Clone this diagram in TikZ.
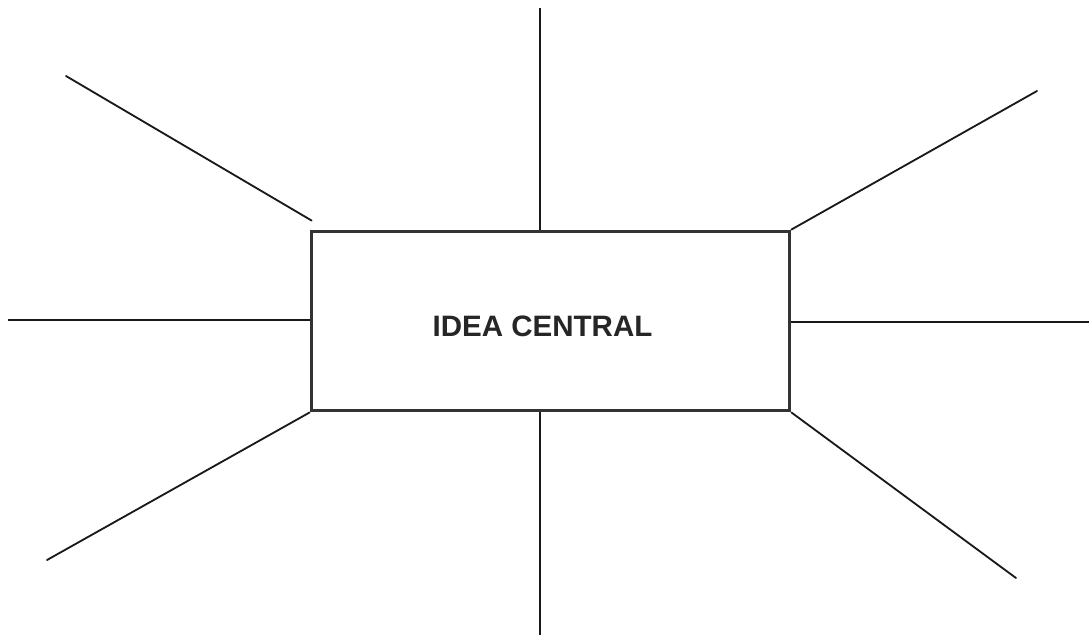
\documentclass[tikz,border=0pt]{standalone}
\usepackage{fontspec}
\setmainfont{Liberation Sans}
\usetikzlibrary{positioning, calc}

\begin{document}
\begin{tikzpicture}[x=0.025cm, y=-0.025cm,
        centro/.style={rectangle, draw=black!80, line width=2.6pt, minimum width=11.95cm, minimum height=4.48cm, inner sep=0pt, font=\fontsize{21}{25}\selectfont\bfseries, text=black!85},
        rama/.style={black!90, line width=1.3pt, line cap=round},
        eje/.style={black!90, line width=0.8pt}
    ]
        \useasboundingbox (0,0) rectangle (1089,640);
        \node[centro] (idea) at (550.5,321) {\hspace*{-0.4cm}\raisebox{-0.38cm}[0pt][0pt]{IDEA CENTRAL}};

        % extremos de las ramas
        \coordinate (n) at (540,8);
        \coordinate (s) at (540,635);
        \coordinate (o) at (8,320);
        \coordinate (e) at (1089,322);
        \coordinate (no) at (66,76);
        \coordinate (ne) at (1037,91);
        \coordinate (so) at (47,560);
        \coordinate (se) at (1016,578);

        \draw[eje] (idea.north -| n) -- (n);
        \draw[eje] (idea.south -| s) -- (s);
        \draw[eje] (idea.west |- o) -- (o);
        \draw[eje] (idea.east |- e) -- (e);
        \draw[rama] ($(idea.north west)+(2,-9)$) -- (no);
        \draw[rama] (idea.north east) -- (ne);
        \draw[rama] (idea.south west) -- (so);
        \draw[rama] (idea.south east) -- (se);
    \end{tikzpicture}
\end{document}
